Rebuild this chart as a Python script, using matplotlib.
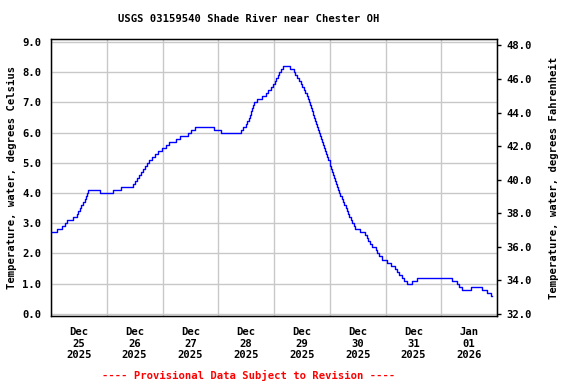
#!/usr/bin/env python3

import pandas as pd
import matplotlib.pyplot as plt
import matplotlib.dates as mdates
from matplotlib.ticker import MultipleLocator, FuncFormatter

# Change points of the stepped record: hours after 2025-12-25 00:00 and value (deg C)
hours = [0.0, 2.7, 4.7, 6.0, 7.0, 9.6, 11.3, 11.7, 12.4, 13.1, 13.8, 14.6, 15.0, 15.4, 15.9,
         21.0, 26.7, 30.3, 35.3, 36.2, 37.1, 37.9, 38.9, 39.6, 40.3, 41.3, 42.4, 43.6, 44.8,
         46.0, 47.6, 49.3, 51.0, 53.6, 55.7, 58.8, 60.4, 62.1, 70.1, 73.3, 81.7, 82.7, 83.8,
         84.4, 85.1, 85.5, 86.1, 86.6, 87.0, 87.6, 88.6, 90.9, 92.4, 93.4, 94.5, 95.4, 96.3,
         96.9, 97.6, 98.1, 98.8, 99.7, 102.9, 104.4, 105.0, 105.9, 106.7, 107.6, 108.2, 108.9,
         109.5, 110.1, 110.6, 111.0, 111.4, 111.9, 112.3, 112.7, 113.1, 113.6, 114.0, 114.4,
         114.9, 115.3, 115.8, 116.1, 116.6, 117.0, 117.4, 118.0, 118.4, 118.8, 119.4, 119.9,
         120.3, 120.7, 121.1, 121.5, 122.0, 122.4, 122.8, 123.2, 123.6, 124.1, 124.6, 125.1,
         125.7, 126.3, 126.8, 127.4, 127.9, 128.5, 129.0, 129.6, 130.3, 131.0, 133.2, 135.0,
         135.9, 136.5, 137.4, 138.4, 139.7, 140.4, 141.0, 142.4, 144.6, 146.4, 147.9, 148.9,
         150.0, 151.0, 152.1, 153.1, 155.3, 157.4, 172.8, 174.6, 175.7, 176.8, 180.7, 185.7,
         187.7, 189.6, 189.8]
temp_c = [2.7, 2.8, 2.9, 3.0, 3.1, 3.2, 3.3, 3.4, 3.5, 3.6, 3.7, 3.8, 3.9, 4.0, 4.1,
          4.0, 4.1, 4.2, 4.3, 4.4, 4.5, 4.6, 4.7, 4.8, 4.9, 5.0, 5.1, 5.2, 5.3,
          5.4, 5.5, 5.6, 5.7, 5.8, 5.9, 6.0, 6.1, 6.2, 6.1, 6.0, 6.1, 6.2, 6.3,
          6.4, 6.5, 6.6, 6.7, 6.8, 6.9, 7.0, 7.1, 7.2, 7.3, 7.4, 7.5, 7.6, 7.7,
          7.8, 7.9, 8.0, 8.1, 8.2, 8.1, 8.0, 7.9, 7.8, 7.7, 7.6, 7.5, 7.4,
          7.3, 7.2, 7.1, 7.0, 6.9, 6.8, 6.7, 6.6, 6.5, 6.4, 6.3, 6.2,
          6.1, 6.0, 5.9, 5.8, 5.7, 5.6, 5.5, 5.4, 5.3, 5.2, 5.1, 5.0,
          4.9, 4.8, 4.7, 4.6, 4.5, 4.4, 4.3, 4.2, 4.1, 4.0, 3.9, 3.8,
          3.7, 3.6, 3.5, 3.4, 3.3, 3.2, 3.1, 3.0, 2.9, 2.8, 2.7, 2.6,
          2.5, 2.4, 2.3, 2.2, 2.1, 2.0, 1.9, 1.8, 1.7, 1.6, 1.5, 1.4,
          1.3, 1.2, 1.1, 1.0, 1.1, 1.2, 1.1, 1.0, 0.9, 0.8, 0.9, 0.8,
          0.7, 0.6, 0.6]

day_labels = ['Dec\n25\n2025', 'Dec\n26\n2025', 'Dec\n27\n2025', 'Dec\n28\n2025',
              'Dec\n29\n2025', 'Dec\n30\n2025', 'Dec\n31\n2025', 'Jan\n01\n2026']

start = pd.Timestamp('2025-12-25 00:00')
times = start + pd.to_timedelta(hours, unit='h')

font = {'family': 'DejaVu Sans Mono', 'weight': 'bold', 'size': 7.6}
plt.rcParams['font.family'] = 'DejaVu Sans Mono'
plt.rcParams['font.weight'] = 'bold'
plt.rcParams['font.size'] = 7.6

fig = plt.figure(figsize=(5.76, 3.84), dpi=100)
ax = fig.add_axes([51 / 576, 1 - 316 / 384, 446 / 576, 277 / 384])

ax.plot(times, temp_c, drawstyle='steps-post', color='#0000ff', linewidth=1.0, zorder=3)

ax.set_xlim(start, start + pd.Timedelta(days=8))
ax.set_ylim(-0.07, 9.1)

# gridlines at midnight, labels at noon
ax.xaxis.set_major_locator(mdates.DayLocator())
ax.xaxis.set_major_formatter(plt.NullFormatter())
noon = [start + pd.Timedelta(hours=12 + 24 * i) for i in range(len(day_labels))]
ax.set_xticks(noon, minor=True)
ax.set_xticklabels(day_labels, minor=True)
ax.tick_params(axis='x', which='both', length=0, pad=8)

ax.yaxis.set_major_locator(MultipleLocator(1.0))
ax.yaxis.set_major_formatter(FuncFormatter(lambda v, p: f'{v:.1f}'))
ax.tick_params(axis='y', length=0, pad=7)

ax.grid(True, which='major', color='#c8c8c8', linewidth=1.0)
for s in ax.spines.values():
    s.set_linewidth(1.0)

ax.set_ylabel('Temperature, water, degrees Celsius', fontdict=font, labelpad=3.5)

# Fahrenheit scale on the right
ax2 = ax.twinx()
c0, c1 = ax.get_ylim()
ax2.set_ylim(c0 * 1.8 + 32, c1 * 1.8 + 32)
ax2.yaxis.set_major_locator(MultipleLocator(2.0))
ax2.yaxis.set_major_formatter(FuncFormatter(lambda v, p: f'{v:.1f}'))
ax2.tick_params(axis='y', length=3, width=1, pad=4)
ax2.set_ylabel('Temperature, water, degrees Fahrenheit', fontdict=font, labelpad=12)

fig.text(249 / 576, 1 - 19 / 384, 'USGS 03159540 Shade River near Chester OH',
         ha='center', va='center', fontdict=font)
fig.text(249 / 576, 1 - 375 / 384, '---- Provisional Data Subject to Revision ----',
         ha='center', va='center', color='#ff0000', fontdict=font)

plt.savefig('out.png', dpi=100)
